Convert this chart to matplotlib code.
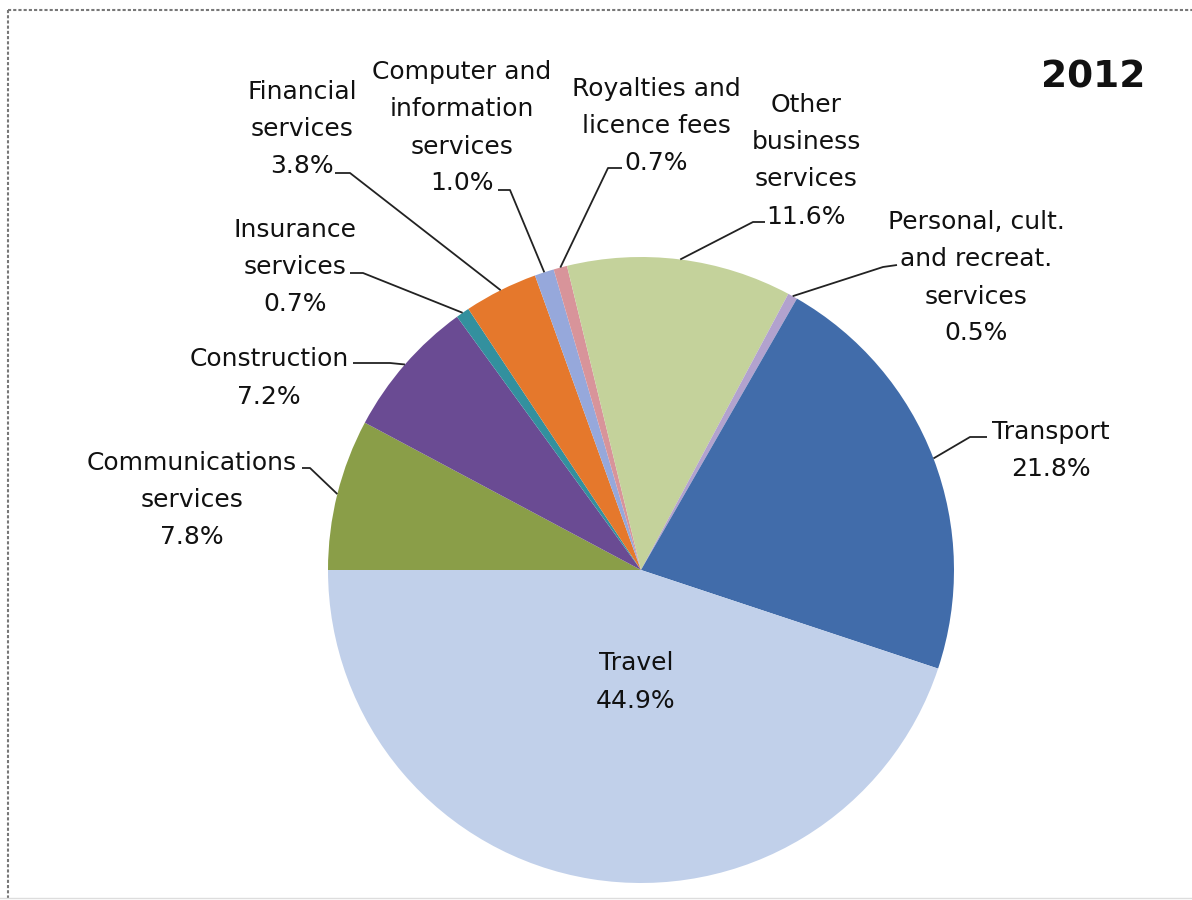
import matplotlib
matplotlib.use("Agg")
import matplotlib.pyplot as plt
from matplotlib.lines import Line2D
import numpy as np

# ---------------- data ----------------
categories = ["Communications\nservices", "Construction", "Insurance\nservices",
              "Financial\nservices", "Computer and\ninformation\nservices",
              "Royalties and\nlicence fees", "Other\nbusiness\nservices",
              "Personal, cult.\nand recreat.\nservices", "Transport", "Travel"]
shares = [7.8, 7.2, 0.7, 3.8, 1.0, 0.7, 11.6, 0.5, 21.8, 44.9]
pct_labels = ["7.8%", "7.2%", "0.7%", "3.8%", "1.0%", "0.7%", "11.6%", "0.5%", "21.8%", "44.9%"]
year = "2012"

colors = ["#8A9E48", "#6A4B93", "#33909E", "#E5782C", "#96A8DB",
          "#D8949A", "#C4D29B", "#B2A2CE", "#416CAA", "#C1D0EA"]

# ---------------- layout (pixels) ----------------
W, H = 1192, 900
CX, CY, R = 641, 570, 313

def px(x, y):
    return ((x - CX) / R, (CY - y) / R)

# label block centers (pixel)
label_centers = [(192, 498), (269, 376), (295, 265), (302, 127), (462, 126),
                 (656, 124), (806, 159), (976, 276), (1051, 448), (636, 680)]
# leader: (tick start, elbow) in pixels, None for no leader
leaders = [((302, 468), (310, 468)), ((353, 363), (390, 363)), ((350, 273), (363, 273)),
           ((335, 173), (350, 173)), ((498, 190), (510, 190)), ((622, 168), (608, 168)),
           ((765, 222), (753, 222)), ((897, 265), (883, 267)), ((987, 437), (970, 437)),
           None]

FONT = "DejaVu Sans"
FS = 18.0
PITCH = 37  # px between lines

fig = plt.figure(figsize=(W / 100, H / 100), dpi=100)
ax = fig.add_axes([0, 0, 1, 1])

wedges, _ = ax.pie(shares, colors=colors, startangle=180, counterclock=False,
                   radius=1, center=(0, 0), frame=True,
                   wedgeprops=dict(linewidth=0))
ax.set_xlim(-CX / R, (W - CX) / R)
ax.set_ylim(-(H - CY) / R, CY / R)
ax.set_aspect("equal")
ax.axis("off")

fs_px = FS / 72 * 100
for i, (cat, pct) in enumerate(zip(categories, pct_labels)):
    lines = cat.split("\n") + [pct]
    cx, cy = label_centers[i]
    n = len(lines)
    for k, ln in enumerate(lines):
        ly = cy + (k - (n - 1) / 2) * PITCH
        base = ly + 0.36 * fs_px
        x, y = px(cx, base)
        ax.text(x, y, ln, ha="center", va="baseline", fontsize=FS,
                family=FONT, color="#111111")
    if leaders[i] is not None:
        (t0, e0) = leaders[i]
        w = wedges[i]
        th = np.deg2rad((w.theta1 + w.theta2) / 2)
        ex, ey = np.cos(th), np.sin(th)
        p0 = px(*t0)
        p1 = px(*e0)
        ax.plot([p0[0], p1[0], ex], [p0[1], p1[1], ey], color="#222222",
                lw=1.3, solid_capstyle="butt")

ax.text(*px(1093, 87), year, ha="center", va="baseline", fontsize=27,
        fontweight="bold", family=FONT, color="#111111")

# frame lines
fig.add_artist(Line2D([8 / W, 1], [1 - 10 / H, 1 - 10 / H], transform=fig.transFigure,
                      color="#777777", lw=1.5, ls=(0, (1.5, 1))))
fig.add_artist(Line2D([8 / W, 8 / W], [1 - 10 / H, 1 - 898 / H], transform=fig.transFigure,
                      color="#777777", lw=1.5, ls=(0, (1.5, 1))))
fig.add_artist(Line2D([0, 1], [1 - 898 / H, 1 - 898 / H], transform=fig.transFigure,
                      color="#DDDDDD", lw=1))

fig.savefig("out.png", dpi=100)
